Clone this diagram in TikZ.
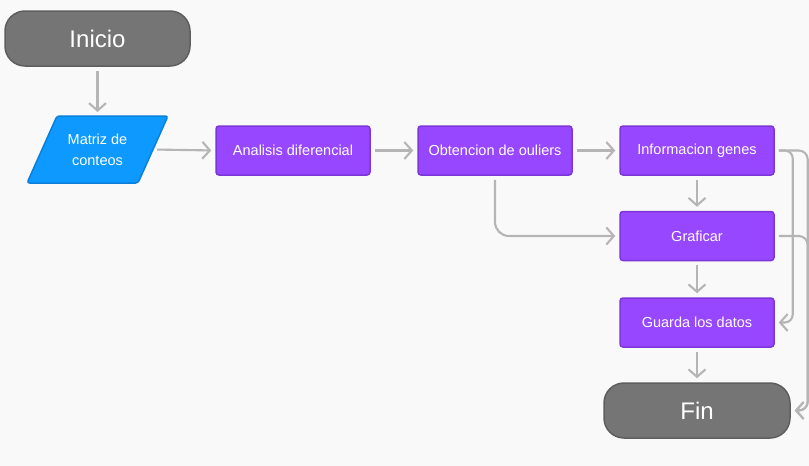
\documentclass[tikz,border=0pt]{standalone}
\usepackage{fontspec}
\setmainfont{Liberation Sans}
\usetikzlibrary{arrows.meta,calc}
\definecolor{bg}{HTML}{F9F9F9}
\definecolor{lnc}{HTML}{B5B5B5}
\definecolor{pfill}{HTML}{9747FF}
\definecolor{pdraw}{HTML}{7C36D9}
\definecolor{bfill}{HTML}{0D99FF}
\definecolor{bdraw}{HTML}{0A80DB}
\definecolor{gfill}{HTML}{757575}
\definecolor{gdraw}{HTML}{5E5E5E}
\tikzset{
  procbox/.style={draw=pdraw, fill=pfill, line width=1.5pt, rounded corners=3pt,
    minimum width=154pt, minimum height=49pt, text=white, font=\fontsize{14.5}{17}\selectfont, inner sep=0pt},
  termbox/.style={draw=gdraw, fill=gfill, line width=1.5pt, rounded corners=20pt,
    minimum height=55pt, text=white, font=\fontsize{24}{28}\selectfont, inner sep=0pt},
  conn/.style={draw=lnc, line width=2.1pt, shorten >=4pt, shorten <=4pt,
    -{Straight Barb[length=7.5pt,width=17pt,line width=2.1pt]}},
  txtnode/.style={text=white, font=\fontsize{14.5}{21}\selectfont, align=center, inner sep=0pt, minimum width=111pt}
}
\begin{document}
\begin{tikzpicture}[x=1pt,y=-1pt]
\fill[bg] (0,0) rectangle (809,466);
\useasboundingbox (0,0) rectangle (809,466);

\node[termbox, minimum width=185pt] (inicio) at (97.5,38.5) {Inicio};
\draw[draw=bdraw, fill=bfill, line width=1.5pt, rounded corners=2.5pt]
  (57,116) -- (168,116) -- (138,183) -- (27,183) -- cycle;
\node[txtnode] (matriz) at (97.5,149.5) {Matriz de\\conteos};
\node[procbox] (anal) at (293,150.5) {Analisis diferencial};
\node[procbox] (obt) at (495,150.5) {Obtencion de ouliers};
\node[procbox] (info) at (697,150.5) {Informacion genes};
\node[procbox] (graf) at (697,236) {Graficar};
\node[procbox] (guarda) at (697,322.5) {Guarda los datos};
\node[termbox, minimum width=186pt] (fin) at (697,410.5) {Fin};

\draw[conn] (inicio.south) -- (97.5,116);
\draw[conn] (matriz.east) -- (anal.west);
\draw[conn] (anal.east) -- (obt.west);
\draw[conn] (obt.east) -- (info.west);
\draw[conn] (info.south) -- (graf.north);
\draw[conn] (graf.south) -- (guarda.north);
\draw[conn] (guarda.south) -- (fin.north);
\draw[conn, rounded corners=14pt] (obt.south) |- (graf.west);
\draw[conn, rounded corners=8pt] (info.east) -| ([xshift=18pt]guarda.east) -- (guarda.east);
\draw[conn, rounded corners=9pt] (info.east) -| ([xshift=17pt]fin.east) -- (fin.east);
\draw[conn, rounded corners=9pt] (graf.east) -| ([xshift=17pt]fin.east) -- (fin.east);
\end{tikzpicture}
\end{document}
